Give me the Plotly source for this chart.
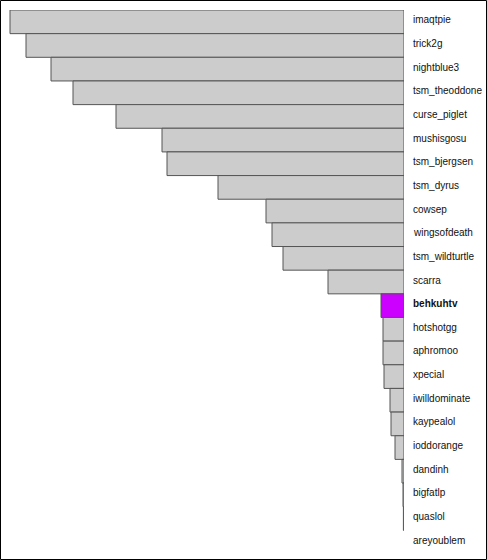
import plotly.graph_objects as go

names = ["imaqtpie", "trick2g", "nightblue3", "tsm_theoddone", "curse_piglet",
         "mushisgosu", "tsm_bjergsen", "tsm_dyrus", "cowsep", "wingsofdeath",
         "tsm_wildturtle", "scarra", "behkuhtv", "hotshotgg", "aphromoo",
         "xpecial", "iwilldominate", "kaypealol", "ioddorange", "dandinh",
         "bigfatlp", "quaslol", "areyoublem"]
values = [394, 378, 353, 331, 288, 242, 237, 186, 138, 132, 121, 76,
          23, 21, 21, 20, 14, 13, 9, 2, 1, 0.6, 0]
highlight = "behkuhtv"

W, H = 487, 560
L, R, T, B = 4, 83, 10, 6
pw, ph = W - L - R, H - T - B

colors = ["#cc00ff" if n == highlight else "#cccccc" for n in names]
line_w = [0 if v == 0 else 1 for v in values]

fig = go.Figure(go.Bar(
    x=values, y=names, orientation="h",
    marker=dict(color=colors, line=dict(color="#555555", width=line_w)),
    hoverinfo="skip",
))

annotations = [dict(x=1, xref="paper", y=n, yref="y", xanchor="left", yanchor="middle",
                    xshift=7, yshift=2, showarrow=False,
                    text=f"<b>{n}</b>" if n == highlight else n)
               for n in names]

fig.update_layout(
    width=W, height=H,
    margin=dict(l=L, r=R, t=T, b=B, pad=0),
    paper_bgcolor="white", plot_bgcolor="white",
    bargap=0, showlegend=False,
    font=dict(family="Liberation Sans, Arial, sans-serif", size=10, color="#111111"),
    xaxis=dict(range=[pw, 0], showgrid=False, zeroline=False, showticklabels=False,
               showline=False, ticks="", fixedrange=True),
    yaxis=dict(range=[len(names) - 0.5, -0.5], showgrid=False,
               zeroline=False, showline=False, ticks="", showticklabels=False,
               fixedrange=True),
    annotations=annotations,
    shapes=[dict(type="rect", xref="paper", yref="paper",
                 x0=(0.5 - L) / pw, x1=(W - 0.5 - L) / pw,
                 y0=(T + ph - (H - 0.5)) / ph, y1=(T + ph - 0.5) / ph,
                 line=dict(color="black", width=1), fillcolor="rgba(0,0,0,0)")],
)

fig.write_html("out.html", config={"displayModeBar": False, "staticPlot": True},
               post_script="document.body.style.margin='0';document.body.style.overflow='hidden';")
